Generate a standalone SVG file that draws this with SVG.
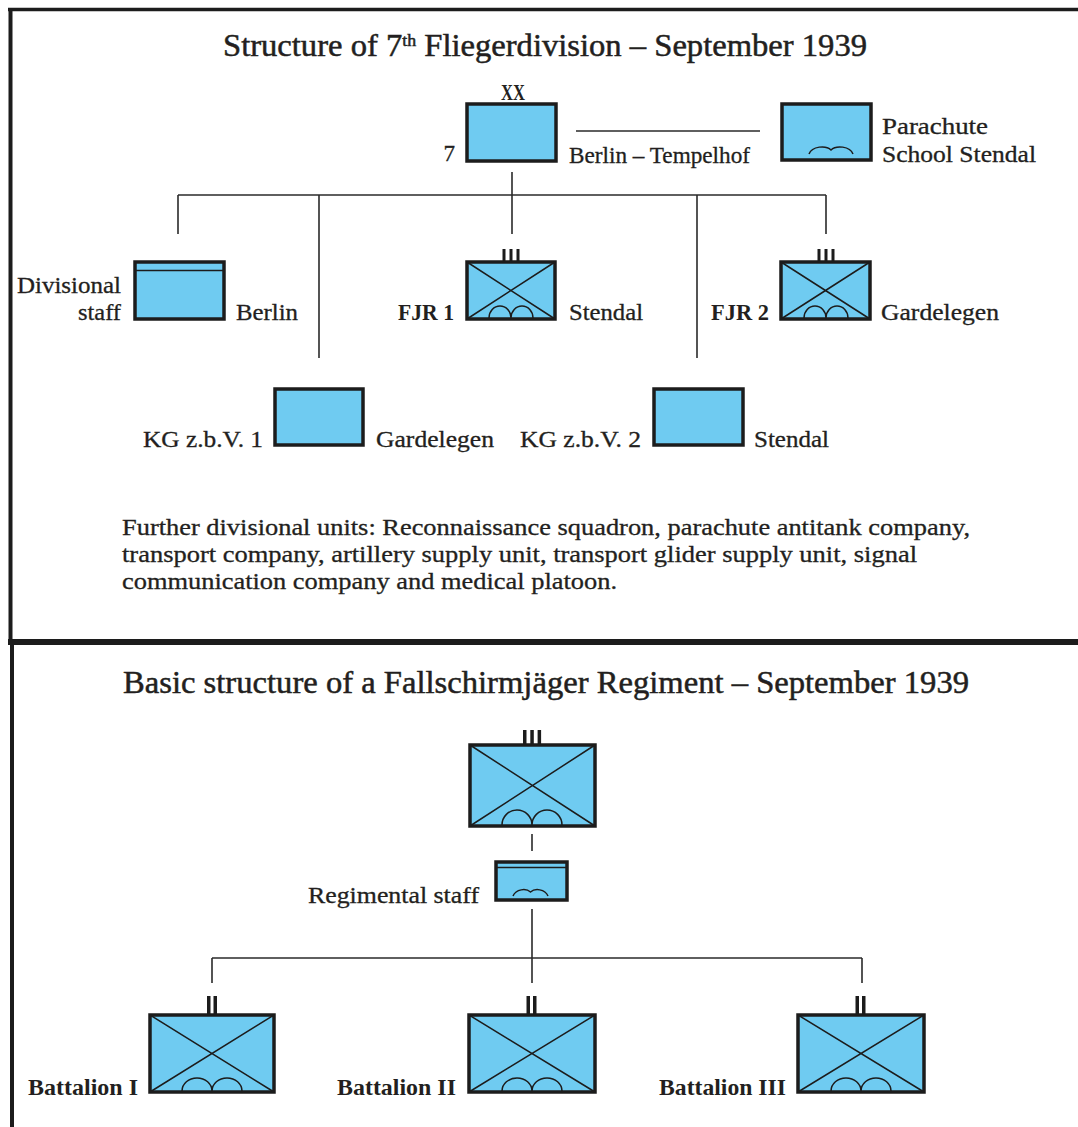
<svg xmlns="http://www.w3.org/2000/svg" width="1078" height="1127" viewBox="0 0 1078 1127">
<style>
.bg{fill:#ffffff}
.frame{stroke:#1c1c1c;fill:none}
.box{fill:#6FCBF1;stroke:#1c1c1c;stroke-width:3.5}
.inner{stroke:#1c1c1c;stroke-width:1.5;fill:none}
.bar{fill:#1c1c1c}
.conn{stroke:#2a2a2a;stroke-width:1.6;fill:none}
.t{font-family:'Liberation Serif','Times New Roman',Times,serif;font-size:23px;fill:#231f20;stroke:#231f20;stroke-width:0.3}
.b{font-weight:bold;stroke-width:0}
.title{font-size:31px;stroke-width:0.5}
</style>
<rect class="bg" x="0" y="0" width="1078" height="1127"/>
<g id="frame">
<line class="frame" x1="8" y1="9.5" x2="1078" y2="9.5" stroke-width="3.5"/>
<line class="frame" x1="10.5" y1="8" x2="10.5" y2="642" stroke-width="4"/>
<line class="frame" x1="8" y1="642" x2="1078" y2="642" stroke-width="6"/>
<line class="frame" x1="12" y1="642" x2="12" y2="1127" stroke-width="4"/>
</g>
<g id="titles">
<text class="t title" x="223" y="56" textLength="644" lengthAdjust="spacingAndGlyphs">Structure of 7<tspan font-size="17" dy="-10">th</tspan><tspan dy="10"> Fliegerdivision – September 1939</tspan></text>
<text class="t title" x="123" y="693" textLength="846" lengthAdjust="spacingAndGlyphs">Basic structure of a Fallschirmjäger Regiment – September 1939</text>
</g>
<g id="connectors">
<line class="conn" x1="576" y1="131" x2="760" y2="131"/>
<line class="conn" x1="512" y1="172" x2="512" y2="234"/>
<line class="conn" x1="178" y1="195" x2="826" y2="195"/>
<line class="conn" x1="178" y1="195" x2="178" y2="234"/>
<line class="conn" x1="319" y1="195" x2="319" y2="358"/>
<line class="conn" x1="697" y1="195" x2="697" y2="358"/>
<line class="conn" x1="826" y1="195" x2="826" y2="234"/>
<line class="conn" x1="532" y1="834" x2="532" y2="851"/>
<line class="conn" x1="532" y1="909" x2="532" y2="983"/>
<line class="conn" x1="212" y1="958" x2="862" y2="958"/>
<line class="conn" x1="212" y1="958" x2="212" y2="983"/>
<line class="conn" x1="862" y1="958" x2="862" y2="983"/>
</g>
<g id="division">
<rect class="box" x="467" y="104" width="89" height="57"/>
<text class="t b" x="513" y="100" font-size="18" text-anchor="middle" textLength="24" lengthAdjust="spacingAndGlyphs">XX</text>
<text class="t" x="455" y="161" text-anchor="end">7</text>
<text class="t" x="569" y="163" textLength="181" lengthAdjust="spacingAndGlyphs">Berlin – Tempelhof</text>
</g>
<g id="school">
<rect class="box" x="782" y="104" width="89" height="56"/>
<path class="inner" d="M809,154 C812,146 826,145 831,150 C836,145 850,146 853,154"/>
<text class="t" x="882" y="134" textLength="106" lengthAdjust="spacingAndGlyphs">Parachute</text>
<text class="t" x="882" y="162" textLength="154" lengthAdjust="spacingAndGlyphs">School Stendal</text>
</g>
<g id="divstaff">
<rect class="box" x="135" y="262" width="89" height="57"/>
<line class="inner" x1="135" y1="270.5" x2="224" y2="270.5"/>
<text class="t" x="121" y="293" text-anchor="end" textLength="104" lengthAdjust="spacingAndGlyphs">Divisional</text>
<text class="t" x="121" y="320" text-anchor="end" textLength="43" lengthAdjust="spacingAndGlyphs">staff</text>
<text class="t" x="236" y="320" textLength="62" lengthAdjust="spacingAndGlyphs">Berlin</text>
</g>
<g id="fjr1">
<rect class="bar" x="502.5" y="249" width="3" height="13"/>
<rect class="bar" x="509.5" y="249" width="3" height="13"/>
<rect class="bar" x="516.5" y="249" width="3" height="13"/>
<rect class="box" x="467" y="262" width="88" height="57"/>
<path class="inner" d="M467,262 L555,319 M555,262 L467,319"/>
<path class="inner" d="M489,318 A11,12 0 0 1 511,318 A11,12 0 0 1 533,318"/>
<text class="t b" x="454" y="320" text-anchor="end" textLength="56" lengthAdjust="spacingAndGlyphs">FJR 1</text>
<text class="t" x="569" y="320" textLength="74" lengthAdjust="spacingAndGlyphs">Stendal</text>
</g>
<g id="fjr2">
<rect class="bar" x="817.5" y="249" width="3" height="13"/>
<rect class="bar" x="824.5" y="249" width="3" height="13"/>
<rect class="bar" x="831.5" y="249" width="3" height="13"/>
<rect class="box" x="781" y="262" width="89" height="57"/>
<path class="inner" d="M781,262 L870,319 M870,262 L781,319"/>
<path class="inner" d="M804,318 A11,12 0 0 1 826,318 A11,12 0 0 1 848,318"/>
<text class="t b" x="769" y="320" text-anchor="end" textLength="58" lengthAdjust="spacingAndGlyphs">FJR 2</text>
<text class="t" x="881" y="320" textLength="118" lengthAdjust="spacingAndGlyphs">Gardelegen</text>
</g>
<g id="kg1">
<rect class="box" x="275" y="389" width="88" height="56"/>
<text class="t" x="263" y="447" text-anchor="end" textLength="120" lengthAdjust="spacingAndGlyphs">KG z.b.V. 1</text>
<text class="t" x="376" y="447" textLength="118" lengthAdjust="spacingAndGlyphs">Gardelegen</text>
</g>
<g id="kg2">
<rect class="box" x="654" y="389" width="89" height="56"/>
<text class="t" x="641" y="447" text-anchor="end" textLength="121" lengthAdjust="spacingAndGlyphs">KG z.b.V. 2</text>
<text class="t" x="754" y="447" textLength="75" lengthAdjust="spacingAndGlyphs">Stendal</text>
</g>
<g id="further">
<text class="t" x="122" y="535" textLength="848" lengthAdjust="spacingAndGlyphs">Further divisional units: Reconnaissance squadron, parachute antitank company,</text>
<text class="t" x="122" y="562" textLength="795" lengthAdjust="spacingAndGlyphs">transport company, artillery supply unit, transport glider supply unit, signal</text>
<text class="t" x="122" y="589" textLength="495" lengthAdjust="spacingAndGlyphs">communication company and medical platoon.</text>
</g>
<g id="regiment">
<rect class="bar" x="523" y="730" width="3.5" height="15"/>
<rect class="bar" x="530.3" y="730" width="3.5" height="15"/>
<rect class="bar" x="537.6" y="730" width="3.5" height="15"/>
<rect class="box" x="470" y="745" width="125" height="81"/>
<path class="inner" d="M470,745 L595,826 M595,745 L470,826"/>
<path class="inner" d="M502,825 A15,15 0 0 1 532,825 A15,15 0 0 1 562,825"/>
</g>
<g id="regstaff">
<rect class="box" x="496" y="862" width="71" height="38"/>
<line class="inner" x1="496" y1="867.5" x2="567" y2="867.5"/>
<path class="inner" d="M513,896 C516,889 526,888 530.5,892 C535,888 545,889 548,896"/>
<text class="t" x="479" y="903" text-anchor="end" textLength="171" lengthAdjust="spacingAndGlyphs">Regimental staff</text>
</g>
<g id="bat1">
<rect class="bar" x="207" y="996" width="3.5" height="19"/>
<rect class="bar" x="213.5" y="996" width="3.5" height="19"/>
<rect class="box" x="150" y="1015" width="124" height="77"/>
<path class="inner" d="M150,1015 L274,1092 M274,1015 L150,1092"/>
<path class="inner" d="M182,1091 A15,13 0 0 1 212,1091 A15,13 0 0 1 242,1091"/>
<text class="t b" x="138" y="1095" text-anchor="end" textLength="110" lengthAdjust="spacingAndGlyphs">Battalion I</text>
</g>
<g id="bat2">
<rect class="bar" x="526.5" y="996" width="3.5" height="19"/>
<rect class="bar" x="533" y="996" width="3.5" height="19"/>
<rect class="box" x="469" y="1015" width="126" height="77"/>
<path class="inner" d="M469,1015 L595,1092 M595,1015 L469,1092"/>
<path class="inner" d="M502,1091 A15,13 0 0 1 532,1091 A15,13 0 0 1 562,1091"/>
<text class="t b" x="456" y="1095" text-anchor="end" textLength="119" lengthAdjust="spacingAndGlyphs">Battalion II</text>
</g>
<g id="bat3">
<rect class="bar" x="855.5" y="996" width="3.5" height="19"/>
<rect class="bar" x="862" y="996" width="3.5" height="19"/>
<rect class="box" x="798" y="1015" width="126" height="77"/>
<path class="inner" d="M798,1015 L924,1092 M924,1015 L798,1092"/>
<path class="inner" d="M831,1091 A15,13 0 0 1 861,1091 A15,13 0 0 1 891,1091"/>
<text class="t b" x="786" y="1095" text-anchor="end" textLength="127" lengthAdjust="spacingAndGlyphs">Battalion III</text>
</g>
</svg>
